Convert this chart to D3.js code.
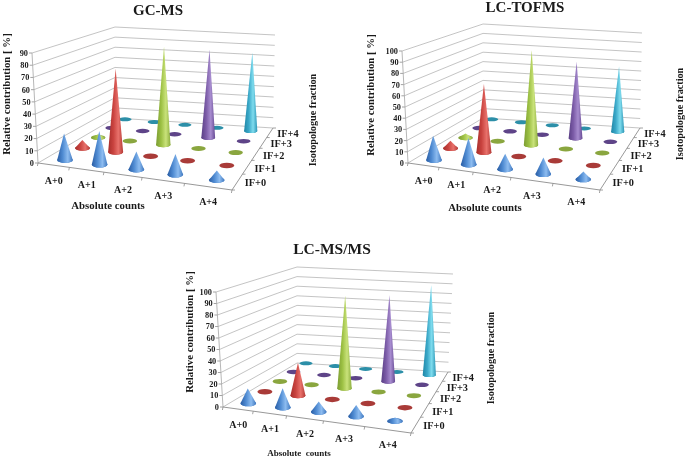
<!DOCTYPE html>
<html><head><meta charset="utf-8">
<script src="https://cdn.jsdelivr.net/npm/d3@7"></script>
<style>html,body{margin:0;padding:0;background:#fff}svg{display:block;filter:blur(0.35px)}text{font-family:"Liberation Serif",serif;font-weight:bold;fill:#1a1a1a}</style>
</head><body><svg id="c" width="685" height="457"></svg>
<script>
const absCounts = ["A+0","A+1","A+2","A+3","A+4"];
const isoFractions = ["IF+0","IF+1","IF+2","IF+3","IF+4"];
const gcMs = [[22,28,15,17,8],[7,72,0,0,0],[3,0,88,0,0],[0,0,0,82,0],[0,0,0,0,76]];
const lcTofms = [[22,24,14,15,7],[7,64,0,0,0],[4,0,92,0,0],[0,0,0,77,0],[0,0,0,0,68]];
const lcMsMs = [[13,17,9,10,3],[0,30,0,0,0],[0,0,88,0,0],[0,0,0,85,0],[0,0,0,0,92]];
const gcTicks = [0,10,20,30,40,50,60,70,80,90];
const lcTicks = [0,10,20,30,40,50,60,70,80,90,100];
const seriesColors = [["#2a5da4","#4f8bd2","#8dbcf0","#3f78c0"],["#a82f2c","#c9433f","#e8716b","#b53a36"],["#7c9d33","#9cc043","#c9e27a","#8cae3e"],["#5a3f85","#7c5ca8","#a78ccf","#674a94"],["#1f86a6","#3aa8c8","#7fdcee","#2c96b6"]];
const flatColors = ["#3f78c0","#a93b38","#8aa63f","#5e4488","#2c8fa8"];

const panels = [
 {title:"GC-MS",data:gcMs,ticks:gcTicks,xTitle:"Absolute counts",titleSize:15,xSize:10.8,
  fl:[38,163],axTop:[32,53],fr:[232,190],br:[273,128],bl:[115,118],blTop:[115,27],brTop:[275,35],
  cells:[[65,160],[216.7,180],[250.7,131],[125,119.3]],
  titlePos:[158,10],xt:[108,205],yt:[6,94],zt:[312,120]},
 {title:"LC-TOFMS",data:lcTofms,ticks:lcTicks,xTitle:"Absolute counts",titleSize:15,xSize:10.8,
  fl:[408,163],axTop:[402,51],fr:[600,190],br:[640,128],bl:[483,118],blTop:[483,24],brTop:[642,33],
  cells:[[434,160],[583.3,179.3],[617.7,131.7],[491.7,119.3]],
  titlePos:[525,7],xt:[485,207],yt:[370,95],zt:[679,114]},
 {title:"LC-MS/MS",data:lcMsMs,ticks:lcTicks,xTitle:"Absolute  counts",titleSize:15.5,xSize:9,
  fl:[223,407],axTop:[216,292],fr:[411,433],br:[448,372],bl:[297,363],blTop:[297,267],brTop:[453,274],
  cells:[[248.3,403.3],[395,421],[429.3,375],[306,363.3]],
  titlePos:[332,249],xt:[299,453],yt:[189,332],zt:[490,358]}
];

const svg = d3.select("#c");
const defs = svg.append("defs");
seriesColors.forEach((c,i)=>{
  const g = defs.append("linearGradient").attr("id","g"+i).attr("x1",0).attr("x2",1).attr("y1",0).attr("y2",0);
  [[0,c[0]],[.35,c[1]],[.68,c[2]],[1,c[3]]].forEach(s=>g.append("stop").attr("offset",s[0]).attr("stop-color",s[1]));
});

function homography(p0,p1,p2,p3){
  const dx1=p1[0]-p2[0],dx2=p3[0]-p2[0],sx=p0[0]-p1[0]+p2[0]-p3[0];
  const dy1=p1[1]-p2[1],dy2=p3[1]-p2[1],sy=p0[1]-p1[1]+p2[1]-p3[1];
  const den=dx1*dy2-dx2*dy1, g=(sx*dy2-dx2*sy)/den, h=(dx1*sy-sx*dy1)/den;
  const a=p1[0]-p0[0]+g*p1[0], b=p3[0]-p0[0]+h*p3[0], d=p1[1]-p0[1]+g*p1[1], e=p3[1]-p0[1]+h*p3[1];
  return (u,v)=>{const w=g*u+h*v+1;return [(a*u+b*v+p0[0])/w,(d*u+e*v+p0[1])/w];};
}
const lerp=(a,b,t)=>[a[0]+(b[0]-a[0])*t,a[1]+(b[1]-a[1])*t];

panels.forEach(p=>{
  const G = svg.append("g");
  const floor = homography(p.fl,p.fr,p.br,p.bl);
  const cell = homography(...p.cells);
  const uS = d3.scaleBand().domain(absCounts).range([0,1]);
  const vS = d3.scaleBand().domain(isoFractions).range([0,1]);
  const uP = d3.scalePoint().domain(absCounts).range([0,1]);
  const vP = d3.scalePoint().domain(isoFractions).range([0,1]);
  const yS = d3.scaleLinear().domain([0,d3.max(p.ticks)]).range([0,1]);
  const frontH = p.fl[1]-p.axTop[1], backH = p.bl[1]-p.blTop[1];
  const heightAt = d3.scaleLinear().domain([-.125,1.125]).range([frontH,backH]);
  const lean = d3.scaleLinear().domain([p.fl[0],p.bl[0],p.brTop[0]]).range([-.055,0,.025]);
  const rxS = d3.scaleLinear().domain([0,1]).range([7.8,6.6]);
  const ryS = d3.scaleLinear().domain([0,1]).range([3,2]);

  // walls
  p.ticks.forEach(t=>{
    const k=yS(t), a=lerp(p.fl,p.axTop,k), b=lerp(p.bl,p.blTop,k), c=lerp(p.br,p.brTop,k);
    G.append("polyline").attr("points",[a,b,c].map(q=>q.join(",")).join(" "))
      .attr("fill","none").attr("stroke","#bdbdbd").attr("stroke-width",.9);
    G.append("line").attr("x1",a[0]-3).attr("y1",a[1]).attr("x2",a[0]).attr("y2",a[1]).attr("stroke","#8c8c8c").attr("stroke-width",.8);
    G.append("text").attr("x",a[0]-4).attr("y",a[1]).attr("dy","0.35em").attr("text-anchor","end").attr("font-size",8.3).text(t);
  });
  G.append("line").attr("x1",p.fl[0]).attr("y1",p.fl[1]).attr("x2",p.axTop[0]).attr("y2",p.axTop[1]).attr("stroke","#a5a5a5").attr("stroke-width",.8);
  // floor edges + ticks
  G.append("polyline").attr("points",[p.fl,p.fr,p.br].map(q=>q.join(",")).join(" ")).attr("fill","none").attr("stroke","#8c8c8c").attr("stroke-width",.9);
  d3.range(6).forEach(i=>{
    const a=floor(i/5,0), b=floor(1,i/5);
    G.append("line").attr("x1",a[0]).attr("y1",a[1]).attr("x2",a[0]-.6).attr("y2",a[1]+3).attr("stroke","#8c8c8c").attr("stroke-width",.8);
    G.append("line").attr("x1",b[0]).attr("y1",b[1]).attr("x2",b[0]+3).attr("y2",b[1]).attr("stroke","#8c8c8c").attr("stroke-width",.8);
  });

  // cones: back to front
  isoFractions.map((f,j)=>j).reverse().forEach(j=>{
    absCounts.forEach((a,i)=>{
      const u=uP(a), v=vP(isoFractions[j]);
      const [bx,by]=cell(u,v), val=p.data[j][i], rx=rxS(v), ry=ryS(v), h=yS(val)*heightAt(v);
      const tx=bx+h*lean(bx), ty=by-h;
      G.append("ellipse").attr("cx",bx).attr("cy",by).attr("rx",rx).attr("ry",ry).attr("fill",flatColors[j]);
      if(val>0){
        G.append("path").attr("d",`M${bx-rx},${by}L${tx},${ty}L${bx+rx},${by}A${rx},${ry} 0 0 1 ${bx-rx},${by}Z`).attr("fill",`url(#g${j})`);
      }
    });
  });

  // labels
  absCounts.forEach(a=>{
    const q=floor(uS(a)+uS.bandwidth()/2,0);
    G.append("text").attr("x",q[0]+.5).attr("y",q[1]+15).attr("dy","0.35em").attr("text-anchor","middle").attr("font-size",10).text(a);
  });
  isoFractions.forEach(f=>{
    const q=floor(1,vS(f)+vS.bandwidth()/2);
    G.append("text").attr("x",q[0]+18).attr("y",q[1]+1).attr("dy","0.35em").attr("text-anchor","middle").attr("font-size",10.3).text(f);
  });
  G.append("text").attr("x",p.titlePos[0]).attr("y",p.titlePos[1]).attr("dy","0.35em").attr("text-anchor","middle").attr("font-size",p.titleSize).text(p.title);
  G.append("text").attr("x",p.xt[0]).attr("y",p.xt[1]).attr("dy","0.35em").attr("text-anchor","middle").attr("font-size",p.xSize).style("white-space","pre").text(p.xTitle);
  G.append("text").attr("transform",`translate(${p.yt[0]},${p.yt[1]}) rotate(-90)`).attr("dy","0.35em").attr("text-anchor","middle").attr("font-size",10.8).text("Relative contribution [ %]");
  G.append("text").attr("transform",`translate(${p.zt[0]},${p.zt[1]}) rotate(-90)`).attr("dy","0.35em").attr("text-anchor","middle").attr("font-size",10.2).text("Isotopologue fraction");
});
</script></body></html>
